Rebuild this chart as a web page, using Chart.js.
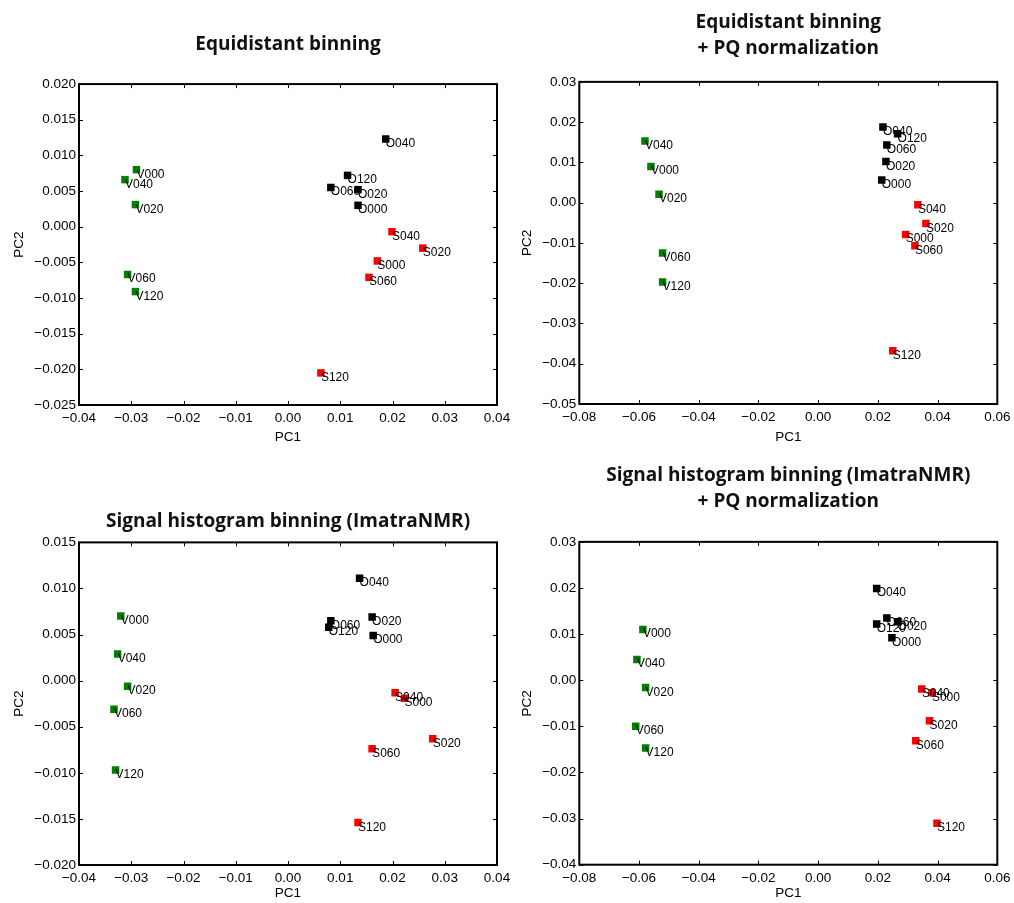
<!DOCTYPE html>
<html>
<head>
<meta charset="utf-8">
<script src="https://cdn.jsdelivr.net/npm/chart.js@4.4.1/dist/chart.umd.min.js"></script>
<style>
html, body { margin: 0; padding: 0; background: #fff; }
body { width: 1014px; height: 903px; position: relative; overflow: hidden; }
canvas { position: absolute; }
</style>
</head>
<body>
<canvas id="c1" width="520" height="451" style="left:0px;top:0px"></canvas>
<canvas id="c2" width="507" height="451" style="left:507px;top:0px"></canvas>
<canvas id="c3" width="520" height="452" style="left:0px;top:451px"></canvas>
<canvas id="c4" width="507" height="452" style="left:507px;top:451px"></canvas>
<script>
// sample names, same order in every series
let vNames = ["V000", "V020", "V040", "V060", "V120"];
let oNames = ["O000", "O020", "O040", "O060", "O120"];
let sNames = ["S000", "S020", "S040", "S060", "S120"];

// equidistant binning
let eqVx = [-0.0290, -0.0292, -0.0312, -0.0307, -0.0292];
let eqVy = [0.0080, 0.0031, 0.0066, -0.0067, -0.0091];
let eqOx = [0.0134, 0.0134, 0.0187, 0.0082, 0.0114];
let eqOy = [0.0030, 0.0052, 0.0123, 0.0055, 0.0072];
let eqSx = [0.0171, 0.0258, 0.0199, 0.0155, 0.0063];
let eqSy = [-0.0048, -0.0030, -0.0007, -0.0071, -0.0205];

// equidistant binning + PQ normalization
let eqpqVx = [-0.0560, -0.0533, -0.0580, -0.0521, -0.0521];
let eqpqVy = [0.0090, 0.0021, 0.0153, -0.0125, -0.0197];
let eqpqOx = [0.0213, 0.0227, 0.0217, 0.0230, 0.0266];
let eqpqOy = [0.0056, 0.0102, 0.0188, 0.0143, 0.0171];
let eqpqSx = [0.0293, 0.0361, 0.0334, 0.0324, 0.0250];
let eqpqSy = [-0.0079, -0.0052, -0.0005, -0.0107, -0.0368];

// signal histogram binning
let shVx = [-0.0320, -0.0307, -0.0326, -0.0333, -0.0330];
let shVy = [0.0070, -0.0006, 0.0029, -0.0031, -0.0097];
let shOx = [0.0163, 0.0161, 0.0137, 0.0082, 0.0078];
let shOy = [0.0049, 0.0069, 0.0111, 0.0065, 0.0058];
let shSx = [0.0223, 0.0277, 0.0205, 0.0161, 0.0134];
let shSy = [-0.0019, -0.0063, -0.0013, -0.0074, -0.0154];

// signal histogram binning + PQ normalization
let shpqVx = [-0.0587, -0.0578, -0.0607, -0.0611, -0.0578];
let shpqVy = [0.0110, -0.0016, 0.0045, -0.0100, -0.0147];
let shpqOx = [0.0247, 0.0266, 0.0196, 0.0230, 0.0196];
let shpqOy = [0.0092, 0.0127, 0.0199, 0.0135, 0.0122];
let shpqSx = [0.0381, 0.0373, 0.0347, 0.0327, 0.0398];
let shpqSy = [-0.0027, -0.0088, -0.0019, -0.0131, -0.0310];

// axis ranges [min, max, step, decimals]
let xSmall = [-0.04, 0.04, 0.01, 2];
let xWide = [-0.08, 0.06, 0.02, 2];
let yEq = [-0.025, 0.020, 0.005, 3];
let yEqPq = [-0.05, 0.03, 0.01, 2];
let ySh = [-0.020, 0.015, 0.005, 3];
let yShPq = [-0.04, 0.03, 0.01, 2];

function pts(xs, ys) {
    return xs.map(function (x, i) { return {x: x, y: ys[i]}; });
}

function fmt(dec) {
    return function (v) {
        let s = Number(v).toFixed(dec);
        if (Math.abs(v) < 1e-12) s = (0).toFixed(dec);
        return s.replace("-", "\u2212");
    };
}

// inward ticks on all four sides plus the box, like the matplotlib frame
let frameTicks = {
    id: "frameTicks",
    afterDatasetsDraw: function (chart) {
        let ctx = chart.ctx;
        let a = chart.chartArea;
        let xs = chart.scales.x, ys = chart.scales.y;
        ctx.save();
        ctx.strokeStyle = "#000";
        ctx.lineWidth = 1;
        ctx.beginPath();
        xs.ticks.forEach(function (t) {
            let px = Math.round(xs.getPixelForValue(t.value)) + 0.5;
            ctx.moveTo(px, a.bottom); ctx.lineTo(px, a.bottom - 4);
            ctx.moveTo(px, a.top); ctx.lineTo(px, a.top + 4);
        });
        ys.ticks.forEach(function (t) {
            let py = Math.round(ys.getPixelForValue(t.value)) + 0.5;
            ctx.moveTo(a.left, py); ctx.lineTo(a.left + 4, py);
            ctx.moveTo(a.right, py); ctx.lineTo(a.right - 4, py);
        });
        ctx.stroke();
        ctx.lineWidth = 2;
        ctx.strokeRect(a.left, a.top, a.right - a.left, a.bottom - a.top);
        ctx.restore();
    }
};

// sample name next to each marker
let pointNames = {
    id: "pointNames",
    afterDatasetsDraw: function (chart) {
        let ctx = chart.ctx;
        ctx.save();
        ctx.font = "12px 'Liberation Sans', Arial, sans-serif";
        ctx.fillStyle = "#000";
        ctx.textAlign = "left";
        ctx.textBaseline = "alphabetic";
        chart.data.datasets.forEach(function (ds, i) {
            chart.getDatasetMeta(i).data.forEach(function (el, j) {
                ctx.fillText(ds.names[j], el.x, el.y + 8);
            });
        });
        ctx.restore();
    }
};

function makeChart(id, title, lay, xr, yr, vx, vy, ox, oy, sx, sy) {
    let tickFont = {family: "'Liberation Sans', Arial, sans-serif", size: 13.5};
    let mk = function (label, color, data, names) {
        return {
            label: label,
            data: data,
            names: names,
            pointStyle: "rect",
            pointRadius: 5.3,
            pointBorderWidth: 0,
            pointBackgroundColor: color,
            backgroundColor: color,
            borderColor: color,
            showLine: false
        };
    };
    return new Chart(document.getElementById(id), {
        type: "scatter",
        data: {
            datasets: [
                mk("V", "#008000", pts(vx, vy), vNames),
                mk("O", "#000000", pts(ox, oy), oNames),
                mk("S", "#ff0000", pts(sx, sy), sNames)
            ]
        },
        options: {
            responsive: false,
            animation: false,
            devicePixelRatio: 1,
            events: [],
            layout: {
                autoPadding: false,
                padding: {left: 0, top: 0, right: lay.padR, bottom: 0}
            },
            plugins: {
                legend: {display: false},
                tooltip: {enabled: false},
                title: {
                    display: true,
                    fullSize: false,
                    text: title,
                    color: "#111",
                    font: {family: "'Open Sans', 'Noto Sans', sans-serif", size: 19, weight: "bold", lineHeight: 1.32},
                    padding: {top: lay.tTop, bottom: lay.tBot}
                }
            },
            scales: {
                x: {
                    type: "linear",
                    min: xr[0], max: xr[1],
                    grid: {display: false, drawTicks: false},
                    border: {display: false},
                    ticks: {stepSize: xr[2], color: "#000", font: tickFont, padding: 5,
                        maxRotation: 0, autoSkip: false, callback: fmt(xr[3])},
                    title: {display: true, text: "PC1", color: "#000", font: tickFont,
                        padding: {top: 0, bottom: lay.xtPad}},
                    afterFit: function (s) {
                        s.height = lay.xH;
                        s.paddingLeft = 0;
                        s.paddingRight = 0;
                    }
                },
                y: {
                    type: "linear",
                    min: yr[0], max: yr[1],
                    grid: {display: false, drawTicks: false},
                    border: {display: false},
                    ticks: {stepSize: yr[2], color: "#000", font: tickFont, padding: 3,
                        autoSkip: false, callback: fmt(yr[3])},
                    title: {display: true, text: "PC2", color: "#000", font: tickFont,
                        padding: {top: lay.ytPad, bottom: 0}},
                    afterFit: function (s) {
                        s.width = lay.yW;
                        s.paddingTop = 0;
                        s.paddingBottom = 0;
                    }
                }
            }
        },
        plugins: [frameTicks, pointNames]
    });
}

makeChart("c1", ["Equidistant binning"],
    {padR: 23, xH: 46, yW: 79, tTop: 32.5, tBot: 26.5, xtPad: 5.9, ytPad: 10.9},
    xSmall, yEq, eqVx, eqVy, eqOx, eqOy, eqSx, eqSy);

makeChart("c2", ["Equidistant binning", "+ PQ normalization"],
    {padR: 16.7, xH: 47, yW: 72.3, tTop: 10.5, tBot: 21.2, xtPad: 5.9, ytPad: 11.9},
    xWide, yEqPq, eqpqVx, eqpqVy, eqpqOx, eqpqOy, eqpqSx, eqpqSy);

makeChart("c3", ["Signal histogram binning (ImatraNMR)"],
    {padR: 23, xH: 38, yW: 79, tTop: 58.5, tBot: 7.8, xtPad: 1.9, ytPad: 10.9},
    xSmall, ySh, shVx, shVy, shOx, shOy, shSx, shSy);

makeChart("c4", ["Signal histogram binning (ImatraNMR)", "+ PQ normalization"],
    {padR: 16.7, xH: 38.3, yW: 72.3, tTop: 12.5, tBot: 28.2, xtPad: 1.9, ytPad: 11.9},
    xWide, yShPq, shpqVx, shpqVy, shpqOx, shpqOy, shpqSx, shpqSy);
</script>
</body>
</html>
